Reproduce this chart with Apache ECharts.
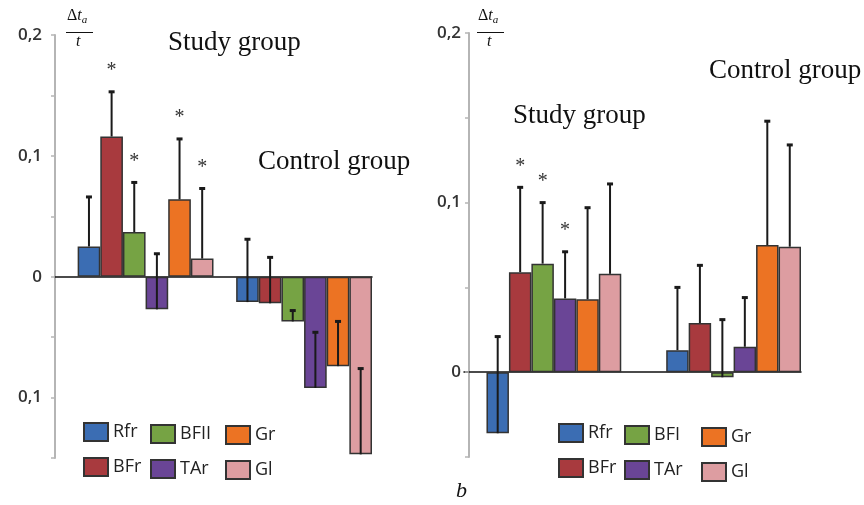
<!DOCTYPE html>
<html>
<head>
<meta charset="utf-8">
<script src="https://cdn.jsdelivr.net/npm/echarts@6/dist/echarts.min.js"></script>
<style>
html,body{margin:0;padding:0;background:#fff}
#chart{width:864px;height:505px}
</style>
</head>
<body>
<div id="chart"></div>
<script>
//两组对照柱状图

//变量名（图例顺序）
var namesA = ['Rfr', 'BFr', 'BFII', 'TAr', 'Gr', 'Gl'];
var namesB = ['Rfr', 'BFr', 'BFI', 'TAr', 'Gr', 'Gl'];
var colors = ['#3b6db3', '#a83a3e', '#76a344', '#6a4596', '#ec7323', '#dd9da1'];

//左图 Study / Control
var studyA = [0.025, 0.116, 0.037, -0.027, 0.064, 0.015];
var studyTopA = [0.066, 0.153, 0.078, 0.019, 0.114, 0.073];
var starA = [0, 1, 1, 0, 1, 1];
var controlA = [-0.021, -0.022, -0.037, -0.092, -0.074, -0.147];
var controlTopA = [0.031, 0.016, -0.028, -0.046, -0.037, -0.076];

//右图 Study / Control
var studyB = [-0.036, 0.059, 0.064, 0.0435, 0.043, 0.058];
var studyTopB = [0.021, 0.109, 0.100, 0.071, 0.097, 0.111];
var starB = [0, 1, 1, 1, 0, 0];
var controlB = [0.013, 0.029, -0.003, 0.015, 0.075, 0.074];
var controlTopB = [0.050, 0.063, 0.031, 0.044, 0.148, 0.134];

//刻度
var tickLabels = { '0.2': '0,2', '0.1': '0,1', '0': '0' };

function tickFmt(v) {
	var k = String(Math.round(Math.abs(v) * 100) / 100);
	return tickLabels[k] || '';
}

function renderErr(params, api) {
	var x = api.value(0);
	var p0 = api.coord([x, api.value(1)]);
	var p1 = api.coord([x, api.value(2)]);
	var kids = [
		{ type: 'line', shape: { x1: p0[0], y1: p0[1], x2: p1[0], y2: p1[1] }, style: { stroke: '#1a1a1a', lineWidth: 2 } },
		{ type: 'line', shape: { x1: p1[0] - 3, y1: p1[1], x2: p1[0] + 3, y2: p1[1] }, style: { stroke: '#1a1a1a', lineWidth: 3 } }
	];
	if(api.value(3)) {
		kids.push({
			type: 'text', x: p1[0], y: p1[1] - 21,
			style: { text: '*', fill: '#333', font: '20px "Liberation Serif"', align: 'center', verticalAlign: 'middle' }
		});
	}
	return { type: 'group', children: kids };
}

//生成一个面板的 series
function panel(idx, names, study, studyTop, star, control, controlTop, gap) {
	var ctrlStart = 1 + names.length + gap;
	var total = ctrlStart + names.length;
	var cats = [];
	for(var s = 0; s < total; s++) {
		cats.push('c' + s);
	}
	var series = [];
	var errData = [];
	for(var i = 0; i < names.length; i++) {
		var d = [];
		for(var j = 0; j < total; j++) {
			d.push('-');
		}
		d[1 + i] = study[i];
		d[ctrlStart + i] = control[i];
		series.push({
			name: names[i],
			type: 'bar',
			stack: 'p' + idx,
			xAxisIndex: idx,
			yAxisIndex: idx,
			barCategoryGap: '0%',
			itemStyle: { color: colors[i], borderColor: '#333', borderWidth: 1.5 },
			data: d
		});
		errData.push([1 + i, study[i], studyTop[i], star[i]]);
		errData.push([ctrlStart + i, control[i], controlTop[i], 0]);
	}
	series.push({
		type: 'custom',
		xAxisIndex: idx,
		yAxisIndex: idx,
		z: 5,
		renderItem: renderErr,
		data: errData
	});
	return { cats: cats, series: series };
}

var pA = panel(0, namesA, studyA, studyTopA, starA, controlA, controlTopA, 1);
var pB = panel(1, namesB, studyB, studyTopB, starB, controlB, controlTopB, 2);

function yAxis(idx, min, offset, margin) {
	return {
		type: 'value',
		gridIndex: idx,
		min: min,
		max: 0.2,
		interval: 0.05,
		offset: offset,
		splitLine: { show: false },
		axisLine: { show: true, lineStyle: { color: '#b5b5b5', width: 2 } },
		axisTick: { show: true, length: 4, lineStyle: { color: '#b5b5b5', width: 1.5 } },
		axisLabel: {
			formatter: tickFmt,
			margin: margin,
			color: '#333',
			fontSize: 17,
			fontWeight: 600,
			fontFamily: 'Open Sans'
		}
	};
}

function xAxis(idx, cats) {
	return {
		type: 'category',
		gridIndex: idx,
		data: cats,
		axisLine: { onZero: true, lineStyle: { color: '#111', width: 1.5 } },
		axisTick: { show: false },
		axisLabel: { show: false }
	};
}

//图例：每列一个
function legendCol(x, y, pair) {
	return {
		orient: 'vertical',
		left: x,
		top: y,
		itemWidth: 24,
		itemHeight: 18,
		itemGap: 15,
		icon: 'rect',
		selectedMode: false,
		data: pair,
		textStyle: { fontFamily: 'Open Sans', fontSize: 18, color: '#222' }
	};
}

function fraction(x) {
	return [
		{ type: 'text', left: x + 1, top: 8, style: { text: '{d|Δ}{t|t}{s|a}', rich: {
			d: { font: '16px "Liberation Serif"', fill: '#111' },
			t: { font: 'italic 16px "Liberation Serif"', fill: '#111' },
			s: { font: 'italic 11px "Liberation Serif"', fill: '#111', padding: [8, 0, 0, 0] }
		} } },
		{ type: 'rect', left: x, top: 32, shape: { width: 27, height: 1 }, style: { fill: '#111' } },
		{ type: 'text', left: x + 10, top: 34, style: { text: 't', font: 'italic 16px "Liberation Serif"', fill: '#111' } }
	];
}

var serif = '27px "Liberation Serif"';
var option = {
	animation: false,
	grid: [
		{ left: 55, top: 35, width: 317, height: 423 },
		{ left: 464, top: 33, width: 337, height: 424 }
	],
	xAxis: [xAxis(0, pA.cats), xAxis(1, pB.cats)],
	yAxis: [yAxis(0, -0.15, 0, 13), yAxis(1, -0.05, -5, 8)],
	legend: [
		legendCol(78, 417, [namesA[0], namesA[1]]),
		legendCol(145, 419, [namesA[2], namesA[3]]),
		legendCol(220, 420, [namesA[4], namesA[5]]),
		legendCol(553, 418, [namesB[0], namesB[1]]),
		legendCol(619, 420, [namesB[2], namesB[3]]),
		legendCol(696, 422, [namesB[4], namesB[5]])
	],
	graphic: [
		{ type: 'text', left: 168, top: 29, style: { text: 'Study group', font: serif, fill: '#111' } },
		{ type: 'text', left: 258, top: 148, style: { text: 'Control group', font: serif, fill: '#111' } },
		{ type: 'text', left: 513, top: 102, style: { text: 'Study group', font: serif, fill: '#111' } },
		{ type: 'text', left: 709, top: 57, style: { text: 'Control group', font: serif, fill: '#111' } },
		{ type: 'text', left: 456, top: 480, style: { text: 'b', font: 'italic 22px "Liberation Serif"', fill: '#111' } }
	].concat(fraction(66), fraction(477)),
	series: pA.series.concat(pB.series)
};

var myChart = echarts.init(document.getElementById('chart'));
myChart.setOption(option);
</script>
</body>
</html>
